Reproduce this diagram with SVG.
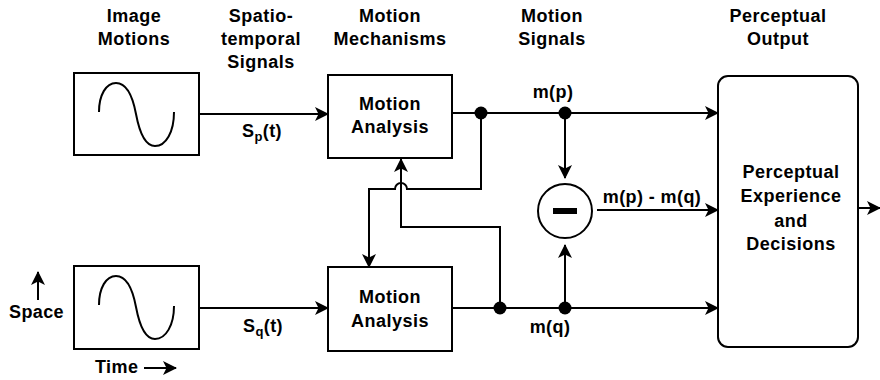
<svg xmlns="http://www.w3.org/2000/svg" width="880" height="380" viewBox="0 0 880 380">
<style>
text{font-family:"Liberation Sans",Arial,sans-serif;font-weight:bold;fill:#000;}
.h{font-size:18px;text-anchor:middle;letter-spacing:0.5px;}
.b{font-size:18px;text-anchor:middle;letter-spacing:0.5px;}
.l{font-size:18px;letter-spacing:0.4px;}
.box{fill:#fff;stroke:#000;stroke-width:2;}
.ln{fill:none;stroke:#000;stroke-width:2;}
.wave{fill:none;stroke:#000;stroke-width:2;}
.dot{fill:#000;}
</style>
<defs>
<marker id="ah" viewBox="0 0 14 14" refX="13" refY="7" markerWidth="14" markerHeight="14" markerUnits="userSpaceOnUse" orient="auto">
<path d="M0,0 L14,7 L0,14 L3.5,7 z" fill="#000"/>
</marker>
</defs>
<g id="headers">
<text class="h" x="134" y="22">Image</text>
<text class="h" x="134" y="45">Motions</text>
<text class="h" x="261" y="22">Spatio-</text>
<text class="h" x="261" y="45">temporal</text>
<text class="h" x="261" y="68">Signals</text>
<text class="h" x="390" y="22">Motion</text>
<text class="h" x="390" y="45">Mechanisms</text>
<text class="h" x="552" y="22">Motion</text>
<text class="h" x="552" y="45">Signals</text>
<text class="h" x="778" y="22">Perceptual</text>
<text class="h" x="778" y="45">Output</text>
</g>
<g id="imageP">
<rect class="box" x="74" y="73" width="125" height="82"/>
<path class="wave" d="M99,112 C99,95 106,83 116,83 C128,83 133,98 136,114 C139,130 144,146 155,146 C166,146 174,132 174,112"/>
</g>
<g id="imageQ">
<rect class="box" x="74" y="266" width="125" height="83"/>
<path class="wave" d="M99,305 C99,288 106,276 116,276 C128,276 133,291 136,307 C139,323 144,339 155,339 C166,339 174,325 174,306"/>
</g>
<g id="axes">
<text class="l" x="9" y="318">Space</text>
<text class="l" x="95" y="373">Time</text>
</g>
<g id="analysisP">
<rect class="box" x="328" y="75" width="124" height="83"/>
<text class="b" x="390" y="110">Motion</text>
<text class="b" x="390" y="133">Analysis</text>
</g>
<g id="analysisQ">
<rect class="box" x="328" y="267" width="124" height="84"/>
<text class="b" x="390" y="303">Motion</text>
<text class="b" x="390" y="327">Analysis</text>
</g>
<g id="subtract">
<circle class="box" cx="565" cy="211" r="27"/>
<rect x="553" y="208" width="24" height="6" fill="#000"/>
</g>
<g id="perceptual">
<rect class="box" x="718" y="76" width="140" height="271" rx="10"/>
<text class="b" x="791" y="178">Perceptual</text>
<text class="b" x="791" y="202">Experience</text>
<text class="b" x="791" y="227">and</text>
<text class="b" x="791" y="250">Decisions</text>
</g>
<g id="connectors">
<line class="ln" x1="38" y1="300" x2="38" y2="272" marker-end="url(#ah)"/>
<line class="ln" x1="144" y1="368" x2="176" y2="368" marker-end="url(#ah)"/>
<line class="ln" x1="199" y1="114" x2="328" y2="114" marker-end="url(#ah)"/>
<line class="ln" x1="199" y1="308" x2="328" y2="308" marker-end="url(#ah)"/>
<line class="ln" x1="452" y1="113" x2="718" y2="113" marker-end="url(#ah)"/>
<line class="ln" x1="452" y1="308" x2="718" y2="308" marker-end="url(#ah)"/>
<line class="ln" x1="565" y1="113" x2="565" y2="178" marker-end="url(#ah)"/>
<line class="ln" x1="565" y1="308" x2="565" y2="245" marker-end="url(#ah)"/>
<line class="ln" x1="597" y1="210" x2="718" y2="210" marker-end="url(#ah)"/>
<line class="ln" x1="858" y1="208" x2="880" y2="208" marker-end="url(#ah)"/>
<path class="ln" d="M500,308 V227 H401 V159" marker-end="url(#ah)"/>
<path class="ln" d="M481,113 V189 H407 A6,6 0 0 0 395,189 H369 V267" marker-end="url(#ah)"/>
<circle class="dot" cx="481" cy="113" r="6.5"/>
<circle class="dot" cx="565" cy="113" r="6.5"/>
<circle class="dot" cx="500" cy="308" r="6.5"/>
<circle class="dot" cx="565" cy="308" r="6.5"/>
</g>
<g id="labels">
<text class="l" x="242" y="137">S<tspan font-size="13" dy="4">p</tspan><tspan dy="-4">(t)</tspan></text>
<text class="l" x="243" y="332">S<tspan font-size="13" dy="4">q</tspan><tspan dy="-4">(t)</tspan></text>
<text class="l" x="553" y="98" text-anchor="middle">m(p)</text>
<text class="l" x="550" y="333" text-anchor="middle">m(q)</text>
<text class="l" x="652" y="203" text-anchor="middle">m(p) - m(q)</text>
</g>
</svg>
